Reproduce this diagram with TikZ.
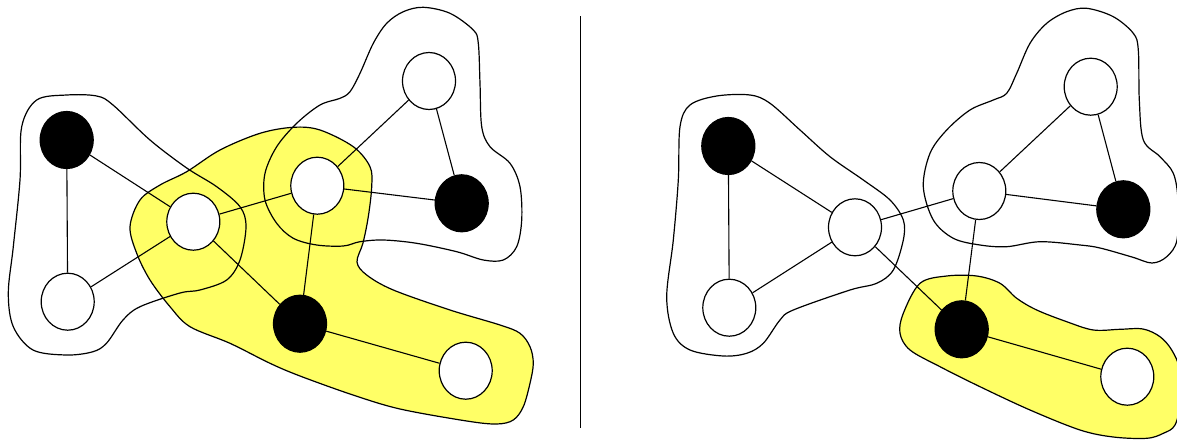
\documentclass[tikz,border=0pt]{standalone}
\usetikzlibrary{shapes.geometric}
\definecolor{hiyellow}{RGB}{255,255,102}
\begin{document}
\begin{tikzpicture}[x=1pt,y=-1pt,
  vtx/.style={ellipse,draw=black,line width=1.2pt,minimum width=53pt,minimum height=57pt,inner sep=0pt},
  wvtx/.style={vtx,fill=white},
  bvtx/.style={vtx,fill=black},
  edge/.style={line width=1.1pt},
  blob/.style={line width=1.2pt,draw=black},
  yblob/.style={blob,fill=hiyellow}]
\useasboundingbox (0,0) rectangle (1177,439);
\clip (0,0) rectangle (1177,439);
% ---- left: highlighted group
\draw[yblob] plot[smooth cycle,tension=0.55] coordinates {
 (130,226.7) (140,200) (160,185) (186.7,171.7) (220,150) (260,133.3) (293.3,127.3) (320,130)
 (353.3,146.7) (370,166.7) (371.7,186.7) (368.3,216.7) (363,243) (357,262) (366.7,275)
 (393.3,290) (450,310) (500,325) (520,333.3) (530,346.7) (533.3,363.3) (530,383.3)
 (523.3,406.7) (513.3,420) (496.7,424) (466.7,421) (400,409) (353,395) (300,376)
 (270,363.3) (230,343.3) (190,326.7) (170,306.7) (150,280) (136.7,253.3)};
% ---- left: white groups
\draw[blob] plot[smooth cycle,tension=0.55] coordinates {
 (21.7,126.7) (36.7,100) (66.7,95) (96.7,96) (113,105) (150,140) (186.7,168) (216.7,186.7)
 (240,206.7) (246,226.7) (240,260) (226.7,280) (200,290) (180,293) (140,306.7) (123,320)
 (106.7,343) (93,351.7) (66.7,355) (33,350) (13.3,326.7) (8.3,293) (13.3,246.7) (20,180)};
\draw[blob] plot[smooth cycle,tension=0.55] coordinates {
 (423.3,7.3) (450,13.3) (473.3,30) (478.3,43.3) (480,83.3) (481.7,126.7) (490,146.7)
 (510,163.3) (520,186.7) (521.7,220) (516.7,246.7) (503.3,260) (483.3,260) (456.7,251.7)
 (416.7,243.3) (383.3,240) (360,241.7) (343.3,246) (316.7,245) (293.3,238.3) (276.7,223.3)
 (265,200) (265,173.3) (276.7,146.7) (296.7,123.3) (320,105) (340,98.3) (350,91.7)
 (360,73.3) (373.3,43.3) (386.7,23.3) (403.3,11.7)};
% ---- right: highlighted group
\draw[yblob] plot[smooth cycle,tension=0.55] coordinates {
 (920,283.3) (946.7,276) (976.7,276) (1000,283.3) (1016.7,298.3) (1036.7,310) (1066.7,321.7)
 (1093.3,330) (1120,329.3) (1143,329) (1160,336.7) (1171.7,350) (1180,370) (1181,400)
 (1175,425) (1163.3,433.3) (1146.7,438.3) (1113.3,437) (1080,430) (1030,410) (980,386.7)
 (940,366.7) (910,350) (900,333.3) (903.3,313.3)};
% ---- right: white groups
\draw[blob] plot[smooth cycle,tension=0.55] coordinates {
 (680,126.7) (690,105) (716.7,96) (750,95) (770,103.3) (800,130) (830,156.7) (863.3,180)
 (890,200) (903.3,220) (903.3,240) (893.3,270) (876.7,283.3) (850,290) (793.3,310)
 (780,320) (763.3,343.3) (746.7,353.3) (723.3,356) (690,350) (673.3,333.3) (666.7,296.7)
 (673.3,240) (678.3,180)};
\draw[blob] plot[smooth cycle,tension=0.55] coordinates {
 (1086.7,8.3) (1113.3,16.7) (1133.3,33.3) (1138.3,50) (1139.3,100) (1143.3,140) (1160,156.7)
 (1173.3,173.3) (1178,200) (1177,240) (1166.7,256.7) (1152,263) (1132,257) (1100,248)
 (1080,245) (1040,241.7) (1006.7,246.7) (980,245) (953.3,238.3) (933.3,220) (923.3,186.7)
 (930,153.3) (946.7,130) (970,110) (993.3,100) (1006.7,93.3) (1016.7,73.3) (1030,43.3)
 (1046.7,23.3) (1066.7,11.7)};
% ---- separator
\coordinate (septop) at (580.5,16);
\coordinate (sepbot) at (580.5,428);
\draw[line width=1.3pt] (septop) -- (sepbot);
% ---- left graph
\node[bvtx] (la) at (66.7,140) {};
\node[wvtx] (lb) at (67.7,301.7) {};
\node[wvtx] (lc) at (193.3,221.7) {};
\node[wvtx] (ld) at (317.3,185.7) {};
\node[bvtx] (le) at (461.7,203.3) {};
\node[wvtx] (lf) at (429,81) {};
\node[bvtx] (lg) at (300,323.7) {};
\node[wvtx] (lh) at (465.7,370.7) {};
\draw[edge] (la)--(lb) (la)--(lc) (lb)--(lc) (lc)--(ld) (lc)--(lg) (ld)--(lg)
  (ld)--(le) (ld)--(lf) (lf)--(le) (lg)--(lh);
% ---- right graph
\node[bvtx] (ra) at (728.3,146) {};
\node[wvtx] (rb) at (729.3,307.7) {};
\node[wvtx] (rc) at (855,227.3) {};
\node[wvtx] (rd) at (979.3,191) {};
\node[bvtx] (re) at (1123.3,209.3) {};
\node[wvtx] (rf) at (1090.7,86.7) {};
\node[bvtx] (rg) at (961.7,329.3) {};
\node[wvtx] (rh) at (1127.3,376.7) {};
\draw[edge] (ra)--(rb) (ra)--(rc) (rb)--(rc) (rc)--(rd) (rc)--(rg) (rd)--(rg)
  (rd)--(re) (rd)--(rf) (rf)--(re) (rg)--(rh);
\end{tikzpicture}
\end{document}
